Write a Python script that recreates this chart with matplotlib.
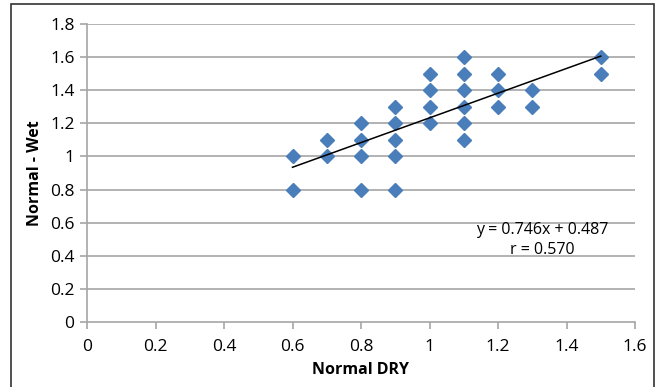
import matplotlib.pyplot as plt
from matplotlib.patches import Rectangle
import numpy as np

plt.rcParams['font.family'] = ['Open Sans', 'DejaVu Sans']

# Data
dry = [0.6, 0.6,
       0.7, 0.7,
       0.8, 0.8, 0.8, 0.8,
       0.9, 0.9, 0.9, 0.9, 0.9,
       1.0, 1.0, 1.0, 1.0,
       1.1, 1.1, 1.1, 1.1, 1.1, 1.1,
       1.2, 1.2, 1.2,
       1.3, 1.3,
       1.5, 1.5]
wet = [1.0, 0.8,
       1.1, 1.0,
       1.2, 1.1, 1.0, 0.8,
       1.3, 1.2, 1.1, 1.0, 0.8,
       1.5, 1.4, 1.3, 1.2,
       1.6, 1.5, 1.4, 1.3, 1.2, 1.1,
       1.5, 1.4, 1.3,
       1.4, 1.3,
       1.6, 1.5]
slope, intercept = 0.746, 0.487
x_ticks = [0, 0.2, 0.4, 0.6, 0.8, 1, 1.2, 1.4, 1.6]
y_ticks = [0, 0.2, 0.4, 0.6, 0.8, 1, 1.2, 1.4, 1.6, 1.8]
x_labels = ['0', '0.2', '0.4', '0.6', '0.8', '1', '1.2', '1.4', '1.6']
y_labels = ['0', '0.2', '0.4', '0.6', '0.8', '1', '1.2', '1.4', '1.6', '1.8']

fig = plt.figure(figsize=(6.61, 3.87), dpi=100)
ax = fig.add_axes([87 / 661, 1 - 322 / 387, (635 - 87) / 661, (322 - 24) / 387])

# outer chart border
fig.patches.append(Rectangle((11 / 661, -0.01), (654 - 11) / 661, 1 - 4 / 387 + 0.01,
                             transform=fig.transFigure, fill=False,
                             edgecolor='#333333', linewidth=1.2))

for y in y_ticks[1:]:
    ax.axhline(y, color='#a6a6a6', linewidth=1.2, zorder=0)

ax.plot(dry, wet, linestyle='none', marker='D', markersize=6.8,
        color='#4a7ebb', zorder=2)

xf = np.array([min(dry), max(dry)])
ax.plot(xf, slope * xf + intercept, color='black', linewidth=1.1, zorder=3)

ax.text(1.33, 0.555, 'y = 0.746x + 0.487', ha='center', va='center', fontsize=11.5)
ax.text(1.33, 0.435, 'r = 0.570', ha='center', va='center', fontsize=11.5)

ax.set_xlim(0, 1.6)
ax.set_ylim(0, 1.8)
ax.set_xticks(x_ticks)
ax.set_xticklabels(x_labels)
ax.set_yticks(y_ticks)
ax.set_yticklabels(y_labels)
ax.tick_params(axis='both', direction='out', length=5, color='#a6a6a6',
               labelsize=12.5, width=1.2)
ax.tick_params(axis='x', pad=7)
ax.tick_params(axis='y', pad=4)

for side in ['top', 'right']:
    ax.spines[side].set_visible(False)
for side in ['left', 'bottom']:
    ax.spines[side].set_color('#a6a6a6')
    ax.spines[side].set_linewidth(1.2)

ax.set_xlabel('Normal DRY', fontsize=11.5, fontweight='bold', labelpad=5)
ax.set_ylabel('Normal - Wet', fontsize=11.5, fontweight='bold', labelpad=5)

fig.savefig('out.png', dpi=100)
